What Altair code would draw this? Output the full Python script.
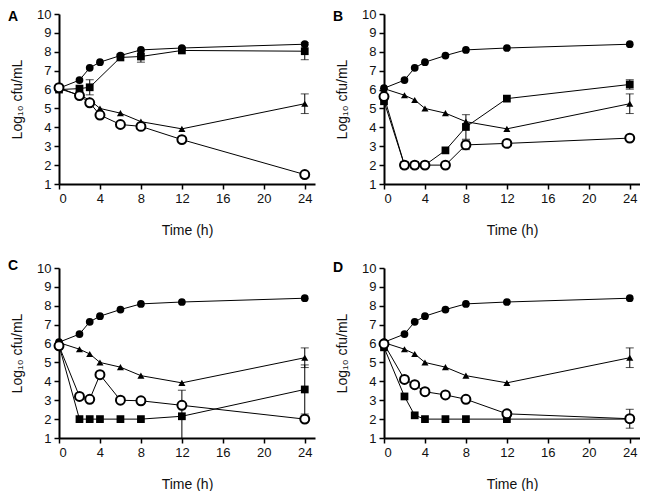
import altair as alt
import pandas as pd

times = [0, 2, 3, 4, 6, 8, 12, 24]

control = [6.07, 6.5, 7.15, 7.45, 7.8, 8.1, 8.2, 8.4]
triangle = [6.05, 5.7, 5.45, 5.0, 4.75, 4.3, 3.92, 5.25]
triangle_err = [0, 0, 0, 0, 0, 0, 0, 0.52]

squares_A = [6.0, 6.05, 6.12, None, 7.7, 7.75, 8.07, 8.03]
squares_A_err = [0, 0, 0.4, 0, 0, 0.3, 0, 0.45]
open_A = [6.1, 5.68, 5.3, 4.65, 4.15, 4.05, 3.35, 1.5]
open_A_err = [0, 0, 0, 0.15, 0, 0.15, 0, 0]

squares_B = [5.38, 2.0, 2.0, 2.0, 2.78, 4.02, 5.52, 6.27]
squares_B_err = [0, 0, 0, 0, 0, 0.65, 0, 0.25]
open_B = [5.63, 2.0, 2.0, 2.0, 2.0, 3.07, 3.15, 3.43]
open_B_err = [0, 0, 0, 0, 0, 0.25, 0, 0]

squares_C = [5.9, 2.0, 2.0, 2.0, 2.0, 2.0, 2.15, 3.57]
squares_C_err = [0, 0, 0, 0, 0, 0, 1.38, 1.3]
open_C = [5.88, 3.2, 3.05, 4.35, 3.0, 2.97, 2.73, 2.0]
open_C_err = [0, 0, 0, 0, 0, 0, 0, 0]

squares_D = [5.8, 3.2, 2.2, 2.0, 2.0, 2.0, 2.0, 2.0]
squares_D_err = [0, 0, 0, 0, 0, 0, 0, 0]
open_D = [5.98, 4.1, 3.82, 3.45, 3.28, 3.05, 2.28, 2.02]
open_D_err = [0, 0, 0, 0, 0, 0, 0, 0.5]

x_ticks = [0, 4, 8, 12, 16, 20, 24]
y_ticks = [1, 2, 3, 4, 5, 6, 7, 8, 9, 10]

panels = {
    "A": (squares_A, squares_A_err, open_A, open_A_err),
    "B": (squares_B, squares_B_err, open_B, open_B_err),
    "C": (squares_C, squares_C_err, open_C, open_C_err),
    "D": (squares_D, squares_D_err, open_D, open_D_err),
}

W, H = 256, 170
FONT = "Liberation Sans"


def xenc(field):
    return alt.X(field, type="quantitative",
                 scale=alt.Scale(domain=[0, 25], nice=False, zero=False),
                 axis=alt.Axis(values=x_ticks, title="Time (h)", titlePadding=18,
                               labelOverlap=False))


def yenc(field):
    return alt.Y(field, type="quantitative",
                 scale=alt.Scale(domain=[1, 10], nice=False, zero=False),
                 axis=alt.Axis(values=y_ticks, tickCount=10, title="Log₁₀ cfu/mL",
                               titlePadding=12, labelOverlap=False, labelBound=False,
                               labelFlush=False))


def make_df(series, vals, errs):
    rows = []
    for t, v, e in zip(times, vals, errs):
        if v is None:
            continue
        rows.append({"series": series, "t": t, "v": v, "lo": v - e, "hi": v + e, "e": e})
    return pd.DataFrame(rows)


def panel(letter):
    sq, sq_e, op, op_e = panels[letter]
    d_ctrl = make_df("control", control, [0] * len(times))
    d_tri = make_df("triangle", triangle, triangle_err)
    d_sq = make_df("square", sq, sq_e)
    d_op = make_df("open", op, op_e)
    all_df = pd.concat([d_ctrl, d_tri, d_sq, d_op], ignore_index=True)
    err_df = all_df[all_df["e"] > 0]

    lines = alt.Chart(all_df).mark_line(color="black", strokeWidth=1).encode(
        x=xenc("t"), y=yenc("v"), detail="series:N"
    )
    rules = alt.Chart(err_df).mark_rule(color="black", strokeWidth=1, clip=True).encode(
        x=xenc("t"), y=yenc("lo"), y2="hi:Q"
    )
    cap_hi = alt.Chart(err_df).mark_tick(
        color="black", orient="horizontal", size=8, thickness=1, clip=True
    ).encode(x=xenc("t"), y=yenc("hi"))
    cap_lo = alt.Chart(err_df).mark_tick(
        color="black", orient="horizontal", size=8, thickness=1, clip=True
    ).encode(x=xenc("t"), y=yenc("lo"))

    p_ctrl = alt.Chart(d_ctrl).mark_point(
        shape="circle", filled=True, color="black", size=60, opacity=1
    ).encode(x=xenc("t"), y=yenc("v"))
    p_tri = alt.Chart(d_tri).mark_point(
        shape="triangle-up", filled=True, color="black", size=50, opacity=1
    ).encode(x=xenc("t"), y=yenc("v"))
    p_sq = alt.Chart(d_sq).mark_point(
        shape="square", filled=True, color="black", size=60, opacity=1
    ).encode(x=xenc("t"), y=yenc("v"))
    p_op = alt.Chart(d_op).mark_point(
        shape="circle", filled=True, fill="white", stroke="black", strokeWidth=2,
        size=80, opacity=1
    ).encode(x=xenc("t"), y=yenc("v"))

    lab_y = {"A": 3, "B": 3, "C": -2, "D": 0}[letter]
    label = alt.Chart(pd.DataFrame({"lab": [letter]})).mark_text(
        font=FONT, fontSize=14, fontWeight="bold", align="left", baseline="middle",
        color="black"
    ).encode(x=alt.value(-51), y=alt.value(lab_y), text="lab:N")

    return alt.layer(lines, rules, cap_hi, cap_lo, p_ctrl, p_tri, p_sq, p_op, label).properties(
        width=W, height=H
    )


top = alt.hconcat(panel("A"), panel("B"), spacing=18)
bottom = alt.hconcat(panel("C"), panel("D"), spacing=18)

chart = alt.vconcat(top, bottom, spacing=22, padding=0).configure_view(
    stroke=None
).configure_axis(
    grid=False,
    domainColor="black",
    domainWidth=2,
    tickColor="black",
    tickWidth=1.5,
    tickSize=5,
    labelFont=FONT,
    labelFontSize=13,
    labelColor="#111",
    labelPadding=3,
    titleFont=FONT,
    titleFontSize=14,
    titleFontWeight="normal",
    titleColor="#111",
).configure_axisY(
    labelOverlap=False
)

chart.save("out.html", embed_options={"renderer": "svg", "actions": False})
